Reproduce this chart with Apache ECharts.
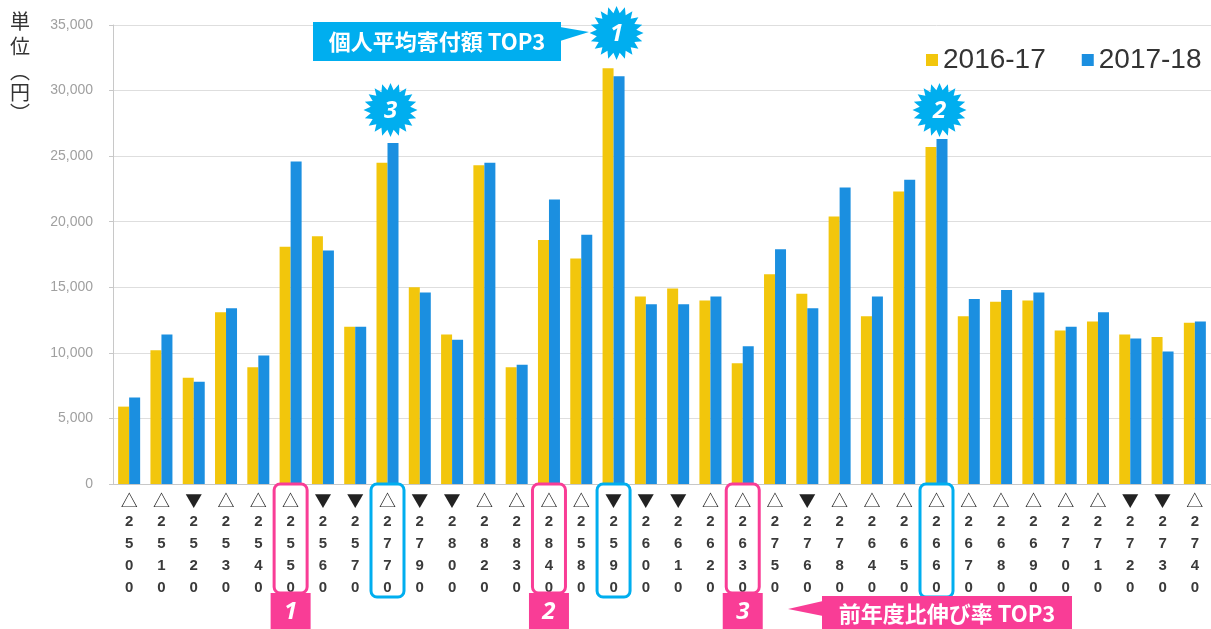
<!DOCTYPE html>
<html>
<head>
<meta charset="utf-8">
<title>個人平均寄付額</title>
<script src="https://cdn.jsdelivr.net/npm/echarts@6/dist/echarts.min.js"></script>
<style>
  html, body { margin: 0; padding: 0; background: #fff; }
  #chart { width: 1211px; height: 629px; }
</style>
</head>
<body>
<div id="chart"></div>
<script>
// 区分（△ / ▼ + コード）
var categories = [
  '△2500', '△2510', '▼2520', '△2530', '△2540', '△2550', '▼2560', '▼2570', '△2770', '▼2790', '▼2800',
  '△2820', '△2830', '△2840', '△2580', '▼2590', '▼2600', '▼2610', '△2620', '△2630', '△2750', '▼2760',
  '△2780', '△2640', '△2650', '△2660', '△2670', '△2680', '△2690', '△2700', '△2710', '▼2720', '▼2730', '△2740'
]
var values2016 = [
  5900, 10200, 8100, 13100, 8900, 18100, 18900, 12000, 24500, 15000, 11400,
  24300, 8900, 18600, 17200, 31700, 14300, 14900, 14000, 9200, 16000, 14500,
  20400, 12800, 22300, 25700, 12800, 13900, 14000, 11700, 12400, 11400, 11200, 12300
]
var values2017 = [
  6600, 11400, 7800, 13400, 9800, 24600, 17800, 12000, 26000, 14600, 11000,
  24500, 9100, 21700, 19000, 31100, 13700, 13700, 14300, 10500, 17900, 13400,
  22600, 14300, 23200, 26300, 14100, 14800, 14600, 12000, 13100, 11100, 10100, 12400
]
var seriesNames = ['2016-17', '2017-18']
// 個人平均寄付額 TOP3 / 前年度比伸び率 TOP3 (1位, 2位, 3位)
var topAmount = ['▼2590', '△2660', '△2770']
var topGrowth = ['△2550', '△2840', '△2630']

var YELLOW = '#f2c60c'
var BLUE = '#1b8fe0'
var CYAN = '#00aeef'
var PINK = '#f93d96'
var FONT = '"Liberation Sans", Arial, sans-serif'
var JP = '"Noto Sans CJK JP", sans-serif'

var chart = echarts.init(document.getElementById('chart'))

chart.setOption({
  animation: false,
  grid: { left: 113, top: 25, width: 1100, bottom: 145 },
  legend: {
    left: 921,
    top: 41,
    icon: 'rect',
    itemWidth: 12,
    itemHeight: 12,
    itemGap: 36,
    data: seriesNames,
    textStyle: { fontSize: 28, color: '#333', fontFamily: FONT }
  },
  xAxis: {
    type: 'category',
    data: categories,
    axisLine: { lineStyle: { color: '#c8c8c8' } },
    axisTick: { length: 4, lineStyle: { color: '#c8c8c8' } },
    axisLabel: {
      interval: 0,
      margin: 7,
      color: '#3a3a3a',
      fontSize: 15,
      fontWeight: 'bold',
      lineHeight: 22,
      fontFamily: FONT,
      formatter: function(v) {
        return '{m|' + v.charAt(0) + '}\n' + v.slice(1).split('').join('\n')
      },
      rich: {
        m: { fontSize: 17, lineHeight: 20, color: '#222', fontWeight: 'normal', fontFamily: JP }
      }
    }
  },
  yAxis: {
    type: 'value',
    min: 0,
    max: 35000,
    interval: 5000,
    axisLine: { show: true, lineStyle: { color: '#c8c8c8' } },
    axisTick: { show: true, length: 4, lineStyle: { color: '#c8c8c8' } },
    splitLine: { lineStyle: { color: '#dedede' } },
    axisLabel: {
      margin: 20,
      color: '#a0a0a0',
      fontSize: 14,
      fontFamily: FONT,
      formatter: function(v) { return v.toLocaleString('en-US') }
    }
  },
  series: [
    { name: seriesNames[0], type: 'bar', barWidth: 11, barGap: '0%', data: values2016, itemStyle: { color: YELLOW } },
    { name: seriesNames[1], type: 'bar', barWidth: 11, barGap: '0%', data: values2017, itemStyle: { color: BLUE } }
  ]
})

// 星形（ギザギザ）の頂点
function burst(cx, cy, n, r1, r2) {
  var pts = []
  for (var i = 0; i < n * 2; i++) {
    var a = Math.PI * i / n - Math.PI / 2
    var r = i % 2 ? r2 : r1
    pts.push([cx + r * Math.cos(a), cy + r * Math.sin(a)])
  }
  return pts
}

function numText(x, y, s, size) {
  return {
    type: 'text',
    z: 110,
    style: {
      x: x, y: y, text: s, fill: '#fff',
      font: 'italic bold ' + size + 'px "Open Sans", sans-serif',
      textAlign: 'center', textVerticalAlign: 'middle'
    }
  }
}

function buildGraphic() {
  var g = []
  var y0 = chart.convertToPixel({ yAxisIndex: 0 }, 0)
  var starY = [33, 110, 110]

  // 個人平均寄付額 TOP3
  topAmount.forEach(function(c, i) {
    var x = chart.convertToPixel({ xAxisIndex: 0 }, c)
    g.push({ type: 'rect', z: 100, shape: { x: x - 16.5, y: y0, width: 33, height: 113, r: 6 },
      style: { fill: 'none', stroke: CYAN, lineWidth: 3 } })
    g.push({ type: 'polygon', z: 100, shape: { points: burst(x + 3, starY[i], 20, 27, 20) }, style: { fill: CYAN } })
    g.push(numText(x + 3, starY[i] + 1, String(i + 1), 24))
  })
  g.push({ type: 'rect', z: 100, shape: { x: 313, y: 22, width: 248, height: 39 }, style: { fill: CYAN } })
  g.push({ type: 'polygon', z: 100, shape: { points: [[560, 27], [589, 32], [560, 41]] }, style: { fill: CYAN } })
  g.push({ type: 'text', z: 110, style: { x: 437, y: 42, text: '個人平均寄付額 TOP3', fill: '#fff',
    font: 'bold 22px ' + JP, textAlign: 'center', textVerticalAlign: 'middle' } })

  // 前年度比伸び率 TOP3
  topGrowth.forEach(function(c, i) {
    var x = chart.convertToPixel({ xAxisIndex: 0 }, c)
    g.push({ type: 'rect', z: 100, shape: { x: x - 16.5, y: y0, width: 33, height: 109, r: 6 },
      style: { fill: 'none', stroke: PINK, lineWidth: 3 } })
    g.push({ type: 'rect', z: 100, shape: { x: x - 20, y: 593, width: 40, height: 40 }, style: { fill: PINK } })
    g.push(numText(x, 612, String(i + 1), 24))
  })
  g.push({ type: 'rect', z: 100, shape: { x: 822, y: 596, width: 250, height: 40 }, style: { fill: PINK } })
  g.push({ type: 'polygon', z: 100, shape: { points: [[823, 601], [788, 609], [823, 616]] }, style: { fill: PINK } })
  g.push({ type: 'text', z: 110, style: { x: 947, y: 614, text: '前年度比伸び率 TOP3', fill: '#fff',
    font: 'bold 22px ' + JP, textAlign: 'center', textVerticalAlign: 'middle' } })

  // 単位（円）縦書き（縦書き用括弧は字面が枠の端に寄るので少しずらす）
  var unit = [['単', 21], ['位', 46], ['︵', 71], ['円', 92], ['︶', 113]]
  unit.forEach(function(u) {
    g.push({ type: 'text', z: 110, style: { x: 20, y: u[1], text: u[0], fill: '#333',
      font: '20px "Noto Sans CJK JP"', textAlign: 'center', textVerticalAlign: 'middle' } })
  })
  return g
}

chart.setOption({ graphic: buildGraphic() })
</script>
</body>
</html>
